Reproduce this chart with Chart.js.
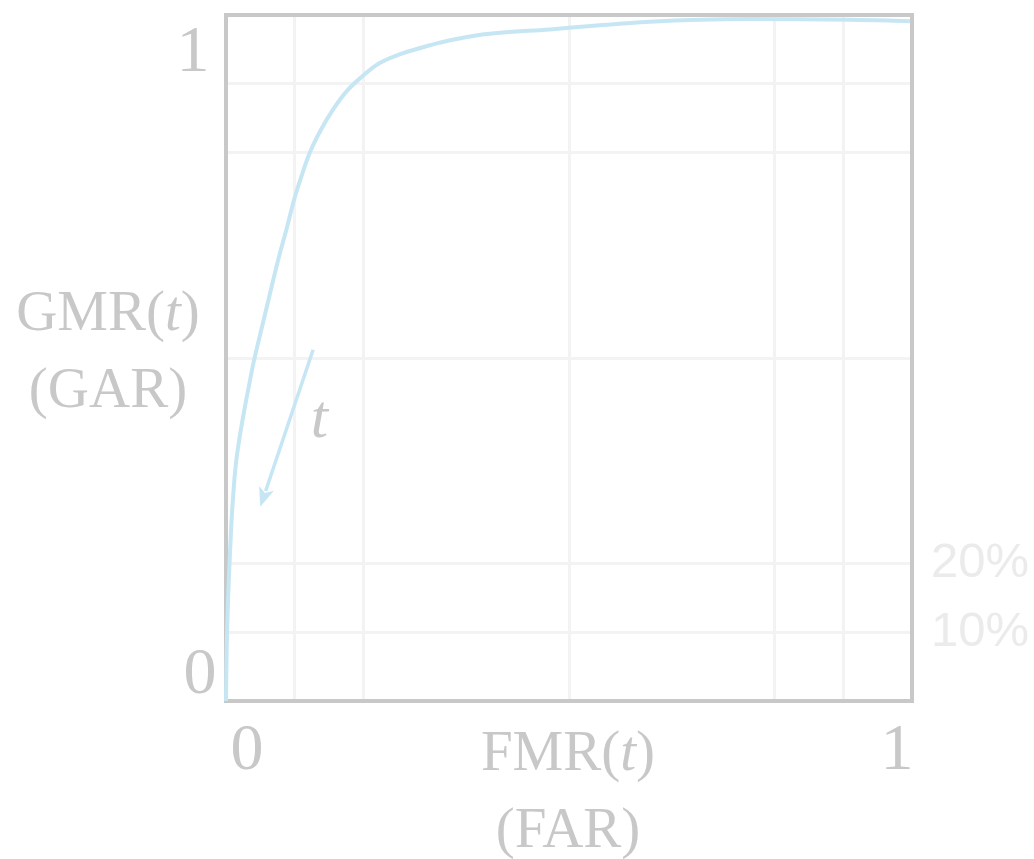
<!DOCTYPE html>
<html>
<head>
<meta charset="utf-8">
<script src="https://cdn.jsdelivr.net/npm/chart.js@4/dist/chart.umd.min.js"></script>
<style>
  html, body { margin: 0; padding: 0; background: #fff; }
  #wrap { width: 1034px; height: 859px; position: relative; }
</style>
</head>
<body>
<div id="wrap"><canvas id="roc"></canvas></div>
<script>
// dados (FMR no eixo x, GMR no eixo y)
const fmr = [0, 0.001, 0.003, 0.006, 0.010, 0.017, 0.038, 0.049, 0.062, 0.076, 0.088, 0.099, 0.108, 0.122,
             0.138, 0.156, 0.176, 0.198, 0.224, 0.254, 0.287, 0.309, 0.351, 0.399, 0.472, 0.545, 0.618,
             0.691, 0.764, 0.910, 0.997];
const gmr = [0, 0.074, 0.147, 0.220, 0.293, 0.366, 0.483, 0.531, 0.585, 0.643, 0.687, 0.730, 0.759, 0.799,
             0.832, 0.862, 0.889, 0.910, 0.930, 0.943, 0.953, 0.959, 0.968, 0.974, 0.979, 0.985, 0.990,
             0.993, 0.994, 0.993, 0.991];

const gridValues = [0, 0.1, 0.2, 0.5, 0.8, 0.9, 1];
const rightTicks = [0.1, 0.2];
const endLabels = ["0", "1"];

// seta do parametro t (de -> para, em unidades dos eixos)
const arrowFrom = [0.127, 0.512];
const arrowTo = [0.050, 0.283];
const arrowLabelAt = [0.136, 0.385];

const corCurva = "rgb(198,230,244)";
const corTexto = "#c8c8c8";
const serif = "'Liberation Serif', 'DejaVu Serif', serif";

// desenha texto com partes em italico
function textoMisto(ctx, partes, cx, y, size) {
    let total = 0;
    partes.forEach(p => {
        ctx.font = (p.it ? "italic " : "") + size + "px " + serif;
        p.w = ctx.measureText(p.s).width;
        total += p.w;
    });
    let x = cx - total / 2;
    ctx.textAlign = "left";
    partes.forEach(p => {
        ctx.font = (p.it ? "italic " : "") + size + "px " + serif;
        ctx.fillText(p.s, x, y);
        x += p.w;
    });
}

const moldura = {
    id: "moldura",
    beforeDatasetsDraw(chart) {
        const { ctx, chartArea: a } = chart;
        ctx.save();
        ctx.strokeStyle = "#c8c8c8";
        ctx.lineWidth = 4;
        ctx.strokeRect(a.left, a.top, a.right - a.left, a.bottom - a.top);
        ctx.restore();
    },
    afterDatasetsDraw(chart) {
        const { ctx, scales: { x, y } } = chart;
        ctx.save();
        // seta
        const x0 = x.getPixelForValue(arrowFrom[0]), y0 = y.getPixelForValue(arrowFrom[1]);
        const x1 = x.getPixelForValue(arrowTo[0]), y1 = y.getPixelForValue(arrowTo[1]);
        const ang = Math.atan2(y1 - y0, x1 - x0);
        const head = 21;
        ctx.strokeStyle = corCurva;
        ctx.fillStyle = corCurva;
        ctx.lineWidth = 3.5;
        ctx.beginPath();
        ctx.moveTo(x0, y0);
        ctx.lineTo(x1 - Math.cos(ang) * head * 0.8, y1 - Math.sin(ang) * head * 0.8);
        ctx.stroke();
        ctx.beginPath();
        ctx.moveTo(x1, y1);
        ctx.lineTo(x1 - head * Math.cos(ang - 0.38), y1 - head * Math.sin(ang - 0.38));
        ctx.lineTo(x1 - head * 0.7 * Math.cos(ang), y1 - head * 0.7 * Math.sin(ang));
        ctx.lineTo(x1 - head * Math.cos(ang + 0.38), y1 - head * Math.sin(ang + 0.38));
        ctx.closePath();
        ctx.fill();

        // rotulo t
        ctx.fillStyle = corTexto;
        ctx.textBaseline = "alphabetic";
        ctx.textAlign = "center";
        ctx.font = "italic 62px " + serif;
        ctx.fillText("t", x.getPixelForValue(arrowLabelAt[0]), y.getPixelForValue(arrowLabelAt[1]));

        // 0 e 1 nos eixos
        ctx.font = "66px " + serif;
        ctx.fillText(endLabels[0], x.getPixelForValue(0) + 21, y.bottom + 68);
        ctx.fillText(endLabels[1], x.getPixelForValue(1) - 15, y.bottom + 68);
        ctx.fillText(endLabels[0], x.left - 26, y.getPixelForValue(0) - 8);
        ctx.fillText(endLabels[1], x.left - 33, y.getPixelForValue(1) + 56);

        // titulos dos eixos
        textoMisto(ctx, [{ s: "GMR(" }, { s: "t", it: true }, { s: ")" }], 108, 330, 57);
        textoMisto(ctx, [{ s: "(GAR)" }], 108, 407, 57);
        const cx = (x.left + x.right) / 2 - 1;
        textoMisto(ctx, [{ s: "FMR(" }, { s: "t", it: true }, { s: ")" }], cx, y.bottom + 69, 57);
        textoMisto(ctx, [{ s: "(FAR)" }], cx, y.bottom + 146, 57);
        ctx.restore();
    }
};

new Chart(document.getElementById("roc"), {
    type: "scatter",
    data: {
        datasets: [{
            data: fmr.map((v, i) => ({ x: v, y: gmr[i] })),
            showLine: true,
            borderColor: corCurva,
            borderWidth: 4,
            pointRadius: 0,
            tension: 0.4,
            clip: false
        }]
    },
    options: {
        responsive: true,
        maintainAspectRatio: false,
        animation: false,
        events: [],
        layout: { padding: { top: 15, left: 0, right: 0, bottom: 0 } },
        plugins: { legend: { display: false }, tooltip: { enabled: false } },
        scales: {
            x: {
                type: "linear", min: 0, max: 1,
                afterBuildTicks: s => { s.ticks = gridValues.map(v => ({ value: v })); },
                afterFit: s => { s.height = 158; s.paddingLeft = 0; s.paddingRight = 0; },
                ticks: { display: false },
                grid: { color: "#f3f3f3", lineWidth: 3, drawTicks: false },
                border: { display: false }
            },
            y: {
                type: "linear", min: 0, max: 1, position: "left",
                afterBuildTicks: s => { s.ticks = gridValues.map(v => ({ value: v })); },
                afterFit: s => { s.width = 226; s.paddingTop = 0; s.paddingBottom = 0; },
                ticks: { display: false },
                grid: { color: "#f3f3f3", lineWidth: 3, drawTicks: false },
                border: { display: false }
            },
            y2: {
                type: "linear", min: 0, max: 1, position: "right",
                afterBuildTicks: s => { s.ticks = rightTicks.map(v => ({ value: v })); },
                afterFit: s => { s.width = 122; s.paddingTop = 0; s.paddingBottom = 0; },
                ticks: {
                    color: "#ebebeb",
                    padding: 19,
                    font: { family: "'Liberation Sans', Arial, sans-serif", size: 49 },
                    callback: v => Math.round(v * 100) + "%"
                },
                grid: { display: false, drawTicks: false },
                border: { display: false }
            }
        }
    },
    plugins: [moldura]
});
</script>
</body>
</html>
